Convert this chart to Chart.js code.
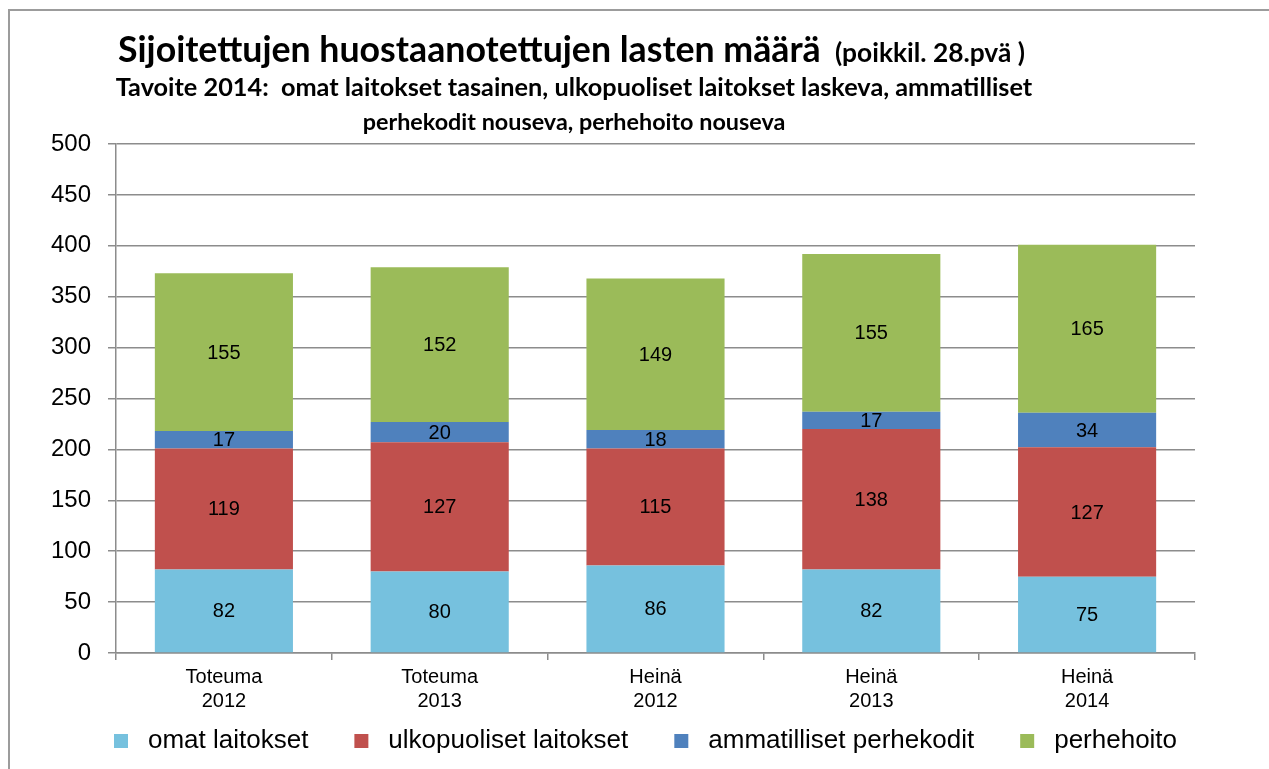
<!DOCTYPE html>
<html><head><meta charset="utf-8">
<script src="https://cdn.jsdelivr.net/npm/chart.js@4"></script>
<style>
html,body{margin:0;padding:0;background:#fff;}
#wrap{position:relative;width:1269px;height:769px;overflow:hidden;background:#fff;}
#frame{position:absolute;left:8px;top:9px;width:1400px;height:900px;border:2px solid #9c9c9c;}
canvas{position:absolute;left:0;top:0;}
</style></head><body>
<div id="wrap"><div id="frame"></div><canvas id="c" width="1269" height="769"></canvas></div>
<script>
// ---- data ----
const categories = [["Toteuma","2012"],["Toteuma","2013"],["Heinä","2012"],["Heinä","2013"],["Heinä","2014"]];
const seriesNames = ["omat laitokset","ulkopuoliset laitokset","ammatilliset perhekodit","perhehoito"];
const omatLaitokset = [82,80,86,82,75];
const ulkopuolisetLaitokset = [119,127,115,138,127];
const ammatillisetPerhekodit = [17,20,18,17,34];
const perhehoito = [155,152,149,155,165];
const yMin = 0, yMax = 500, yStep = 50;
const titleMain = "Sijoitettujen huostaanotettujen lasten määrä";
const titleNote = "(poikkil. 28.pvä )";
const subtitleLines = ["Tavoite 2014:  omat laitokset tasainen, ulkopuoliset laitokset laskeva, ammatilliset",
                       "perhekodit nouseva, perhehoito nouseva"];

const colors = ["#76C1DE","#C0504D","#4F81BD","#9BBB59"];
const seriesValues = [omatLaitokset, ulkopuolisetLaitokset, ammatillisetPerhekodit, perhehoito];
const FONT = "'Liberation Sans', Arial, sans-serif";
const TFONT = "Lato, 'Open Sans', sans-serif";

function swatch(color){
  const c = document.createElement('canvas');
  c.width = 57; c.height = 14;
  const g = c.getContext('2d');
  g.fillStyle = color; g.fillRect(36, 0, 14, 14);
  return c;
}

function fitText(ctx, text, weight, family, targetW){
  ctx.font = weight + " 100px " + family;
  const w = ctx.measureText(text).width;
  return 100 * targetW / w;
}

const titlePlugin = {
  id: 'titles',
  afterLayout(chart){
    if (chart.legend) { chart.legend.left += 44; }
  },
  afterDraw(chart){
    const ctx = chart.ctx;
    ctx.save();
    ctx.fillStyle = '#000';
    ctx.textBaseline = 'alphabetic';
    ctx.textAlign = 'left';
    let s = fitText(ctx, titleMain, 'bold', TFONT, 703);
    ctx.font = 'bold ' + s + 'px ' + TFONT;
    ctx.fillText(titleMain, 118, 62);
    s = fitText(ctx, titleNote, 'bold', TFONT, 190);
    ctx.font = 'bold ' + s + 'px ' + TFONT;
    ctx.fillText(titleNote, 835, 62);
    const widths = [917, 423];
    const bases = [96, 130];
    ctx.textAlign = 'center';
    subtitleLines.forEach((t, i) => {
      const fs = fitText(ctx, t, 'bold', TFONT, widths[i]);
      ctx.font = 'bold ' + fs + 'px ' + TFONT;
      ctx.fillText(t, 574, bases[i]);
    });
    ctx.restore();
  }
};

const valuePlugin = {
  id: 'values',
  afterDatasetsDraw(chart){
    const ctx = chart.ctx;
    ctx.save();
    ctx.font = '20px ' + FONT;
    ctx.fillStyle = '#000';
    ctx.textAlign = 'center';
    ctx.textBaseline = 'middle';
    chart.data.datasets.forEach((ds, di) => {
      const meta = chart.getDatasetMeta(di);
      meta.data.forEach((el, i) => {
        const y = (el.y + el.base) / 2;
        ctx.fillText(String(ds.data[i]), el.x, y + 1);
      });
    });
    ctx.restore();
  }
};

new Chart(document.getElementById('c'), {
  type: 'bar',
  data: {
    labels: categories,
    datasets: seriesNames.map((n, i) => ({
      label: n,
      data: seriesValues[i],
      backgroundColor: colors[i],
      borderWidth: 0,
      barPercentage: 0.64,
      categoryPercentage: 1.0
    }))
  },
  options: {
    responsive: false,
    animation: false,
    devicePixelRatio: 1,
    layout: { padding: { top: 144, left: 16, right: 74, bottom: 5 } },
    plugins: {
      title: { display: false },
      tooltip: { enabled: false },
      legend: {
        position: 'bottom',
        labels: {
          color: '#000',
          font: { family: FONT, size: 26 },
          usePointStyle: true,
          pointStyleWidth: 57,
          boxHeight: 14,
          padding: 10,
          generateLabels(chart){
            return chart.data.datasets.map((ds, i) => ({
              text: ds.label,
              fillStyle: ds.backgroundColor,
              strokeStyle: ds.backgroundColor,
              lineWidth: 0,
              pointStyle: swatch(ds.backgroundColor),
              hidden: false,
              datasetIndex: i
            }));
          }
        }
      }
    },
    scales: {
      x: {
        stacked: true,
        afterFit(scale){ scale.height = 65; },
        grid: { display: true, drawOnChartArea: false, offset: true, tickLength: 7, color: '#8c8c8c', lineWidth: 1.5 },
        border: { display: true, color: '#8c8c8c', width: 1.5 },
        ticks: { color: '#000', font: { family: FONT, size: 20, lineHeight: 1.2 }, padding: 5, maxRotation: 0, autoSkip: false }
      },
      y: {
        stacked: true,
        min: yMin, max: yMax,
        afterFit(scale){ scale.width = 100; },
        grid: { color: '#8c8c8c', lineWidth: 1.5, tickLength: 8 },
        border: { display: true, color: '#8c8c8c', width: 1.5 },
        ticks: { stepSize: yStep, color: '#000', font: { family: FONT, size: 24 }, padding: 17 }
      }
    }
  },
  plugins: [titlePlugin, valuePlugin]
});
</script>
</body></html>
